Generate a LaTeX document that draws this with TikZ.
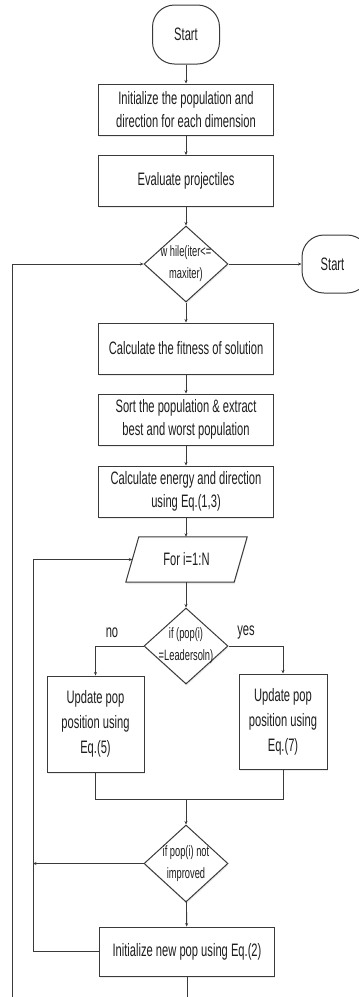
\documentclass[tikz,border=0pt]{standalone}
\usepackage{fontspec}
\setmainfont{Liberation Sans}[FakeStretch=0.62]
\usetikzlibrary{shapes.geometric,arrows.meta,shadows}
\definecolor{linec}{HTML}{3A3A3A}
\definecolor{textc}{HTML}{1E1E1E}
\begin{document}
\begin{tikzpicture}[x=1pt,y=-1pt,
  base/.style={draw=linec, line width=1pt, fill=white, inner sep=0pt, align=center, text=textc,
    font=\fontsize{18}{23}\selectfont},
  shad/.style={drop shadow={shadow xshift=0.6pt, shadow yshift=-1.8pt, fill=black, opacity=0.08}},
  box/.style={base, shad, minimum width=175pt, minimum height=51pt},
  term/.style={base, rounded corners=22pt, minimum width=67pt, minimum height=59pt},
  dia/.style={base, shad, diamond, minimum width=84pt, minimum height=76pt},
  dtxt/.style={font=\fontsize{15}{22}\selectfont, align=center, text=textc},
  lab/.style={font=\fontsize{18}{23}\selectfont, text=textc, inner sep=0pt},
  conn/.style={draw=linec, line width=0.9pt, -{Stealth[length=3.5pt,width=3pt]}},
  plain/.style={draw=linec, line width=0.9pt}]
\clip (0,0) rectangle (359,997);
\fill[white] (0,0) rectangle (359,997);

\node[term] (start) at (186,34.5) {Start};
\node[box] (b1) at (186,109.5) {Initialize the population and\\direction for each dimension};
\node[box] (b2) at (186,181) {Evaluate projectiles};
\node[dia, label={[dtxt]center:w hile(iter<=\\maxiter)}] (d1) at (186,264) {};
\node[term, minimum height=58pt] (stop) at (335.5,264) {\hspace*{-6pt}Start};
\node[box] (b3) at (186,348.5) {Calculate the fitness of solution};
\node[box] (b4) at (186,419.5) {Sort the population \& extract\\best and worst population};
\node[box] (b5) at (186,491.5) {Calculate energy and direction\\using Eq.(1,3)};
\node[inner sep=0pt, minimum width=108pt, minimum height=45pt, text=textc,
  font=\fontsize{18}{23}\selectfont] (para) at (186.5,559.5) {};
\draw[base, shad] ([xshift=6.5pt]para.north west) -- ([xshift=6.5pt]para.north east)
  -- ([xshift=-6.5pt]para.south east) -- ([xshift=-6.5pt]para.south west) -- cycle;
\node[lab] (paratxt) at (para) {For i=1:N};
\node[dia, label={[dtxt]center:if (pop(i)\\=Leadersoln)}] (d2) at (186,646) {};
\node[lab] (no) at (112,633) {no};
\node[lab] (yes) at (246,633) {yes};
\node[base, shad, minimum width=97pt, minimum height=96pt, font=\fontsize{18}{25}\selectfont] (bl) at (95.5,724) {Update pop\\position using\\Eq.(5)};
\node[base, shad, minimum width=88pt, minimum height=95pt, font=\fontsize{18}{25}\selectfont] (br) at (283,721.5) {Update pop\\position using\\Eq.(7)};
\coordinate (m) at (186,799);
\node[dia, minimum height=77pt, label={[dtxt]center:if pop(i) not\\improved}] (d3) at (186,863.5) {};
\node[box, minimum height=49pt] (np) at (187,951.5) {Initialize new pop using Eq.(2)};
\coordinate (lx) at (33,559.5);
\coordinate (ox) at (12,264);
\coordinate (bot) at (12,997);

\draw[conn] (start) -- (b1);
\draw[conn] (b1) -- (b2);
\draw[conn] (b2) -- (d1);
\draw[conn] (d1) -- (b3);
\draw[conn] (d1.east) -- (stop.west);
\draw[conn] (b3) -- (b4);
\draw[conn] (b4) -- (b5);
\draw[conn] (b5.south) -- (b5.south |- para.north);
\draw[conn] (para.south -| d2) -- (d2);
\draw[conn] (d2.west) -| (bl.north);
\draw[conn] (d2.east) -| (br.north);
\draw[plain] (bl.south) |- (m) -| (br.south);
\draw[conn] (m) -- (d3);
\draw[conn] (d3) -- (np);
\draw[conn] (d3.west) -- (d3.west -| lx);
\draw[conn] (np.west) -| (lx) -- (para.west);
\draw[conn] (np.south) -- (np.south |- bot) -| (ox) -- (d1.west);
\end{tikzpicture}
\end{document}
